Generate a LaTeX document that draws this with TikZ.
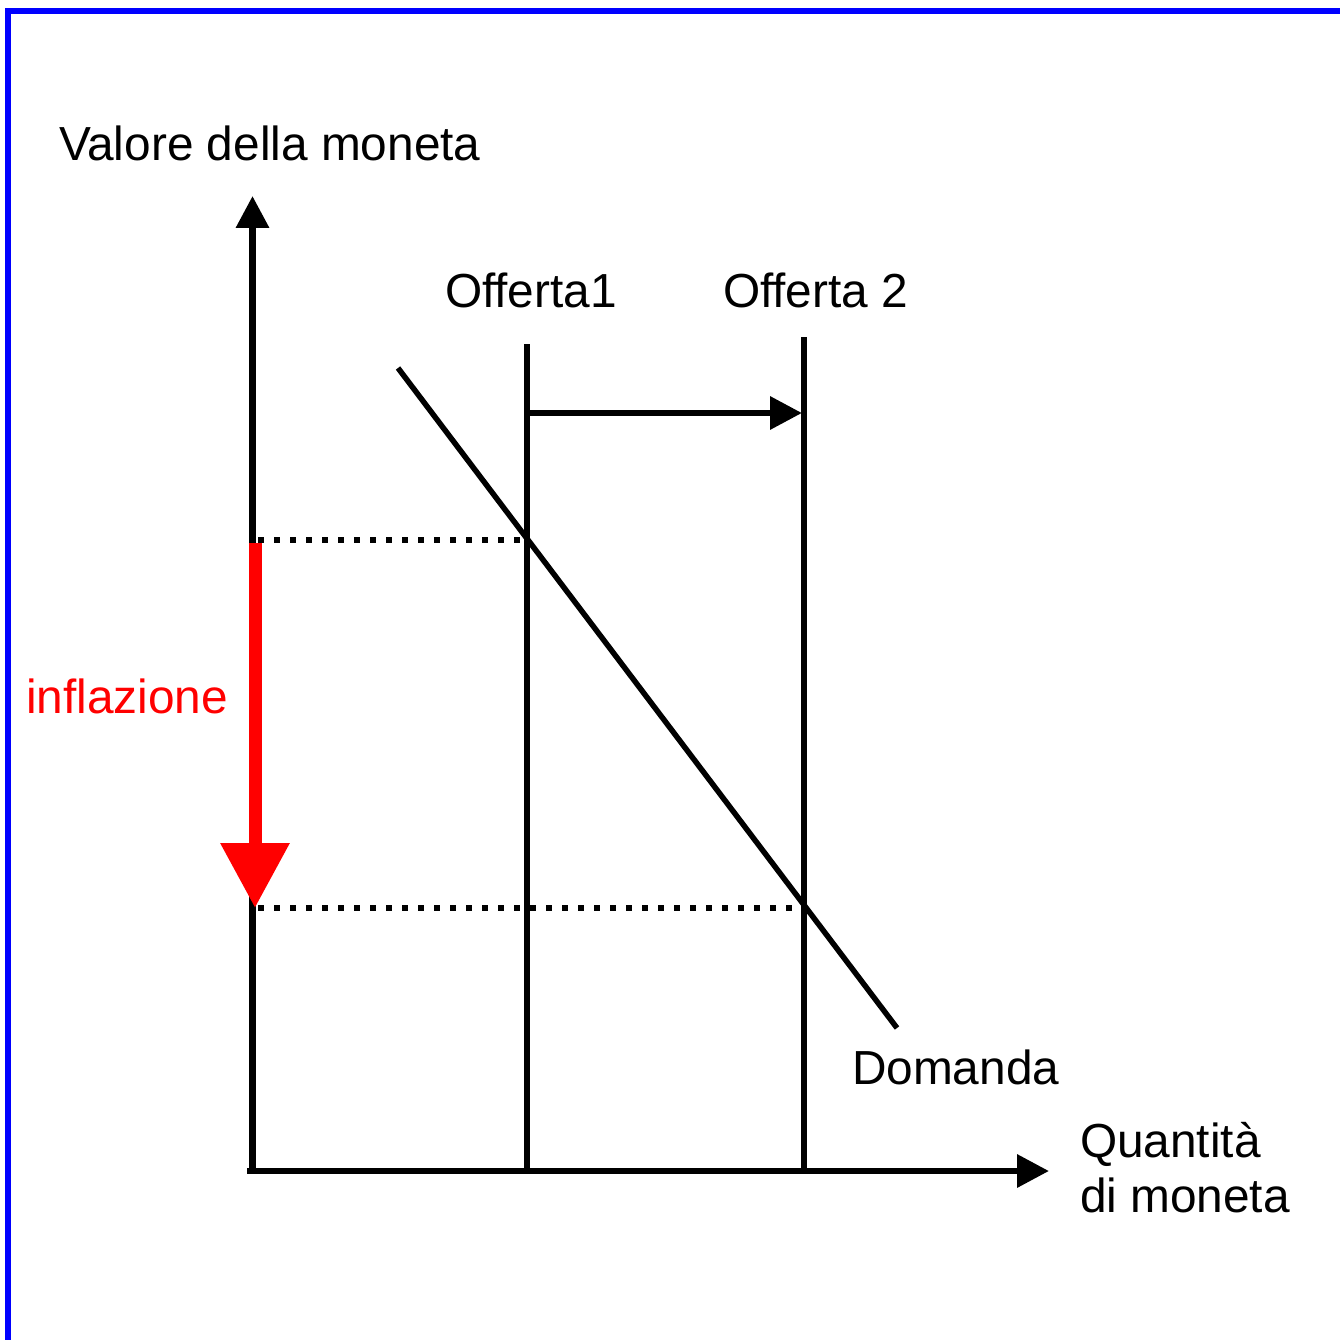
\documentclass[tikz,border=0pt]{standalone}
\usepackage{fontspec}
\setmainfont{Liberation Sans}
\usetikzlibrary{arrows.meta}
\definecolor{bordblue}{RGB}{0,0,255}
\definecolor{infred}{RGB}{255,0,0}
\tikzset{
  lbl/.style={anchor=base west, inner sep=0pt, outer sep=0pt, font=\fontsize{47.8}{56}\selectfont},
  axisline/.style={line width=6.5pt, -{Triangle[width=32pt,length=32pt]}},
  supply/.style={line width=6pt},
  shift arrow/.style={line width=6.5pt, -{Triangle[width=32pt,length=32pt]}},
  demand/.style={line width=5.5pt},
  guide/.style={line width=6pt, dash pattern=on 6pt off 10pt},
  inflarrow/.style={line width=13pt, infred, -{Triangle[width=66pt,length=65pt]}},
}
\begin{document}
\begin{tikzpicture}[x=1pt,y=-1pt]
\useasboundingbox (0,0) rectangle (1340,1340);
% frame
\coordinate (fBL) at (8,1345);
\coordinate (fTL) at (8,11);
\coordinate (fTR) at (1345,11);
\begin{scope}
\clip (0,0) rectangle (1340,1340);
\draw[bordblue, line width=6pt] (fBL) -- (fTL) -- (fTR);
\end{scope}
% key points
\coordinate (O) at (252.5,1171);
\coordinate (Otail) at (247,1171);
\coordinate (Ytip) at (252.5,196);
\coordinate (Xtip) at (1049,1171);
\coordinate (S1top) at (527,344);
\coordinate (S1bot) at (527,1171);
\coordinate (S2top) at (804,337);
\coordinate (S2bot) at (804,1171);
\coordinate (Harr0) at (527,413);
\coordinate (Harr1) at (802,413);
\coordinate (D0) at (398,368);
\coordinate (D1) at (897,1028);
\coordinate (E1) at (527,540);
\coordinate (E2) at (804,908);
\coordinate (G1) at (258,540);
\coordinate (G2) at (258,908);
\coordinate (R0) at (255,543);
\coordinate (R1) at (255,908);
% axes
\draw[axisline] (O) -- (Ytip);
\draw[axisline] (Otail) -- (Xtip);
% supply curves
\draw[supply] (S1bot) -- (S1top);
\draw[supply] (S2bot) -- (S2top);
\draw[shift arrow] (Harr0) -- (Harr1);
% demand
\draw[demand] (D0) -- (D1);
% guides
\draw[guide] (G1) -- (E1);
\draw[guide] (G2) -- (E2);
% inflation arrow
\draw[inflarrow] (R0) -- (R1);
% labels
\node[lbl] (yl) at (59,161) {Valore della moneta};
\node[lbl] (s1l) at (445,307) {Offerta1};
\node[lbl] (s2l) at (723,307) {Offerta 2};
\node[lbl, text=infred] (infl) at (26,713) {inflazione};
\node[lbl] (dl) at (852,1084) {Domanda};
\node[lbl] (xl1) at (1080,1157) {Quantità};
\node[lbl] (xl2) at (1080,1212) {di moneta};
\end{tikzpicture}
\end{document}
